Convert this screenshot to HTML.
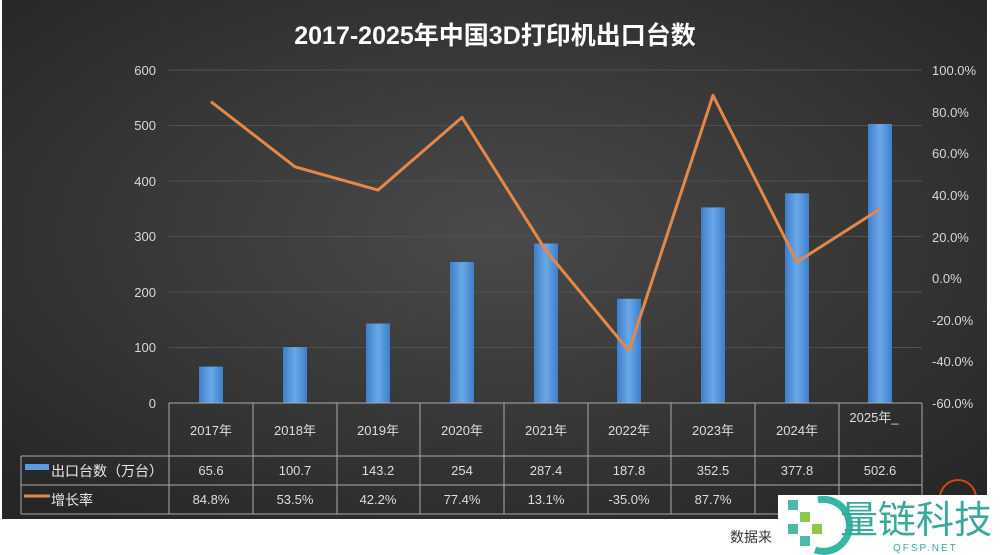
<!DOCTYPE html>
<html><head><meta charset="utf-8"><style>
body{margin:0;width:1000px;height:555px;background:#fff;overflow:hidden;font-family:"Liberation Sans","Noto Sans CJK SC",sans-serif}
</style></head><body>
<svg width="1000" height="555" xmlns="http://www.w3.org/2000/svg" style="position:absolute;left:0;top:0">
<defs>
<radialGradient id="bg" cx="50%" cy="45%" r="70%">
<stop offset="0" stop-color="#4a4a4a"/><stop offset="1" stop-color="#262626"/>
</radialGradient>
<linearGradient id="bar" x1="0" x2="1"><stop offset="0" stop-color="#3d7fc9"/><stop offset="0.5" stop-color="#6aa8e6"/><stop offset="1" stop-color="#3d7fc9"/></linearGradient>
</defs>
<rect x="2" y="0" width="985" height="519" fill="url(#bg)"/>
<text x="495" y="44" fill="#fff" font-size="25" font-weight="bold" text-anchor="middle" font-family="Liberation Sans,Noto Sans CJK SC,sans-serif">2017-2025年中国3D打印机出口台数</text>
<g stroke="#505050" stroke-width="1">
<line x1="169" y1="70" x2="922" y2="70"/><line x1="169" y1="125.5" x2="922" y2="125.5"/><line x1="169" y1="181" x2="922" y2="181"/><line x1="169" y1="236.5" x2="922" y2="236.5"/><line x1="169" y1="292" x2="922" y2="292"/><line x1="169" y1="347.5" x2="922" y2="347.5"/>
</g>
<g fill="#d8d8d8" font-size="13" text-anchor="end">
<text x="156" y="75">600</text><text x="156" y="130">500</text><text x="156" y="186">400</text><text x="156" y="241">300</text><text x="156" y="297">200</text><text x="156" y="352">100</text><text x="156" y="408">0</text>
</g>
<g fill="#d8d8d8" font-size="13" text-anchor="start">
<text x="932" y="75">100.0%</text><text x="932" y="117">80.0%</text><text x="932" y="158">60.0%</text><text x="932" y="200">40.0%</text><text x="932" y="242">20.0%</text><text x="932" y="283">0.0%</text><text x="932" y="325">-20.0%</text><text x="932" y="366">-40.0%</text><text x="932" y="408">-60.0%</text>
</g>
<g fill="url(#bar)">
<rect x="199" y="366.6" width="24" height="36.4"/>
<rect x="283" y="347.1" width="24" height="55.9"/>
<rect x="366" y="323.5" width="24" height="79.5"/>
<rect x="450" y="262" width="24" height="141"/>
<rect x="534" y="243.5" width="24" height="159.5"/>
<rect x="617" y="298.8" width="24" height="104.2"/>
<rect x="701" y="207.4" width="24" height="195.6"/>
<rect x="785" y="193.3" width="24" height="209.7"/>
<rect x="868" y="124" width="24" height="279"/>
</g>
<polyline fill="none" stroke="#e4884a" stroke-width="3" stroke-linejoin="round" points="211,101.7 295,166.8 378,190.1 462,117.4 546,250.7 629,350.9 713,95.4 797,262 880,209"/>
<g stroke="#aaa" stroke-width="1" fill="none">
<line x1="169" y1="403" x2="922" y2="403"/>
<line x1="21" y1="456" x2="922" y2="456"/>
<line x1="21" y1="485" x2="922" y2="485"/>
<line x1="21" y1="514" x2="922" y2="514"/>
<line x1="21" y1="456" x2="21" y2="514"/>
<line x1="169" y1="403" x2="169" y2="514"/><line x1="253" y1="403" x2="253" y2="514"/><line x1="337" y1="403" x2="337" y2="514"/><line x1="420" y1="403" x2="420" y2="514"/><line x1="504" y1="403" x2="504" y2="514"/><line x1="588" y1="403" x2="588" y2="514"/><line x1="671" y1="403" x2="671" y2="514"/><line x1="755" y1="403" x2="755" y2="514"/><line x1="839" y1="403" x2="839" y2="514"/><line x1="922" y1="403" x2="922" y2="514"/>
</g>
<g fill="#ddd" font-size="13" text-anchor="middle">
<text x="211" y="435">2017年</text><text x="295" y="435">2018年</text><text x="378" y="435">2019年</text><text x="462" y="435">2020年</text><text x="546" y="435">2021年</text><text x="629" y="435">2022年</text><text x="713" y="435">2023年</text><text x="797" y="435">2024年</text><text x="874" y="422">2025年_</text>
<text x="211" y="475">65.6</text><text x="295" y="475">100.7</text><text x="378" y="475">143.2</text><text x="462" y="475">254</text><text x="546" y="475">287.4</text><text x="629" y="475">187.8</text><text x="713" y="475">352.5</text><text x="797" y="475">377.8</text><text x="880" y="475">502.6</text>
<text x="211" y="504">84.8%</text><text x="295" y="504">53.5%</text><text x="378" y="504">42.2%</text><text x="462" y="504">77.4%</text><text x="546" y="504">13.1%</text><text x="629" y="504">-35.0%</text><text x="713" y="504">87.7%</text>
</g>
<rect x="25" y="464" width="24" height="6" fill="#5a9ae0"/>
<line x1="24" y1="496" x2="50" y2="496" stroke="#e4884a" stroke-width="3"/>
<g fill="#e8e8e8" font-size="14"><text x="51" y="476">出口台数（万台）</text><text x="51" y="505">增长率</text></g>
<circle cx="958" cy="498" r="18" fill="none" stroke="#d0451a" stroke-width="2"/>
<rect x="778" y="495" width="222" height="60" fill="#fff"/>
<text x="730" y="542" fill="#333" font-size="14">数据来</text>
<g fill="#4fb8a8"><rect x="788" y="500" width="10" height="10"/><rect x="800" y="512" width="10" height="10" fill="#8cc84b"/><rect x="788" y="524" width="10" height="10"/><rect x="812" y="524" width="10" height="10" fill="#8cc84b"/><rect x="800" y="536" width="10" height="10"/></g>
<path d="M818 500 A26 26 0 1 1 815 550" fill="none" stroke="#35b5a6" stroke-width="7"/>
<text x="840" y="533" fill="#3aa99d" font-size="38" font-family="Noto Sans CJK SC,sans-serif">量链科技</text>
<text x="893" y="551" fill="#3aa99d" font-size="10" letter-spacing="2">QFSP.NET</text>
</svg>
</body></html>
